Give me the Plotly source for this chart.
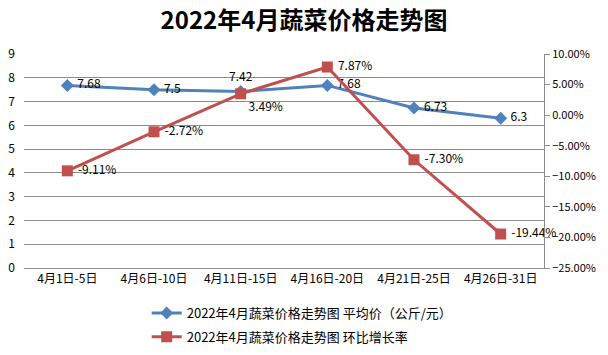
import plotly.graph_objects as go

categories = ["4月1日-5日", "4月6日-10日", "4月11日-15日", "4月16日-20日", "4月21日-25日", "4月26日-31日"]
avg_price = [7.68, 7.5, 7.42, 7.68, 6.73, 6.3]
growth = [-0.0911, -0.0272, 0.0349, 0.0787, -0.0730, -0.1944]
avg_labels = ["7.68", "7.5", "7.42", "7.68", "6.73", "6.3"]
growth_labels = ["-9.11%", "-2.72%", "3.49%", "7.87%", "-7.30%", "-19.44%"]

FONT = "Noto Sans CJK SC"
BLUE = "#4f81bd"
RED = "#c0504d"
GRID = "#8c8c8c"

avg_pos = ["middle right", "middle right", "top center", "middle right", "middle right", "middle right"]
growth_pos = ["middle right", "middle right", "bottom right", "middle right", "middle right", "middle right"]
pad = lambda labels, pos: [("\u00a0" + t) if p == "middle right" else t for t, p in zip(labels, pos)]

fig = go.Figure()
fig.add_trace(go.Scatter(
    x=categories, y=avg_price, mode="lines+markers+text",
    name="2022年4月蔬菜价格走势图 平均价（公斤/元）", legendgroup="a",
    line=dict(color=BLUE, width=3),
    marker=dict(symbol="diamond", size=10, color=BLUE),
    text=pad(avg_labels, avg_pos),
    textposition=avg_pos,
    textfont=dict(family=FONT, size=12, color="#000000"),
    yaxis="y", cliponaxis=False,
))
fig.add_trace(go.Scatter(
    x=categories, y=growth, mode="lines+markers+text",
    name="2022年4月蔬菜价格走势图 环比增长率", legendgroup="b",
    line=dict(color=RED, width=3),
    marker=dict(symbol="square", size=11, color=RED),
    text=pad(growth_labels, growth_pos),
    textposition=growth_pos,
    textfont=dict(family=FONT, size=12, color="#000000"),
    yaxis="y2", cliponaxis=False,
))

fig.update_layout(
    width=608, height=355,
    margin=dict(l=24, r=64, t=54, b=87, autoexpand=False),
    paper_bgcolor="white", plot_bgcolor="white",
    font=dict(family=FONT, size=11, color="#000000"),
    title=dict(text="<b>2022年4月蔬菜价格走势图</b>", x=0.5, xanchor="center",
               y=1 - 21 / 355, yanchor="middle", yref="container",
               font=dict(family=FONT, size=24, color="#000000")),
    xaxis=dict(type="category", range=[-0.5, 5.5], showgrid=False, showline=True,
               linecolor=GRID, linewidth=1,
               ticks="", automargin=False, tickfont=dict(family=FONT, size=12)),
    yaxis=dict(range=[0, 9], dtick=1, showgrid=True, gridcolor=GRID, gridwidth=1,
               zeroline=False, showline=False, ticks="", ticklabelstandoff=8, automargin=False,
               tickfont=dict(family=FONT, size=12)),
    yaxis2=dict(range=[-0.25, 0.10], dtick=0.05, tickformat=".2%", overlaying="y", side="right",
                showgrid=False, zeroline=False, showline=True, linecolor=GRID, linewidth=1,
                ticks="outside", ticklen=5, tickcolor=GRID, automargin=False,
                tickfont=dict(family=FONT, size=11)),
    legend=dict(orientation="v", x=0.535, xanchor="center", y=-0.14, yanchor="top",
                font=dict(family=FONT, size=13), bgcolor="rgba(0,0,0,0)", tracegroupgap=4),
    showlegend=True,
)

fig.write_html("out.html", config={"displayModeBar": False},
               post_script="document.body.style.margin='0';")
